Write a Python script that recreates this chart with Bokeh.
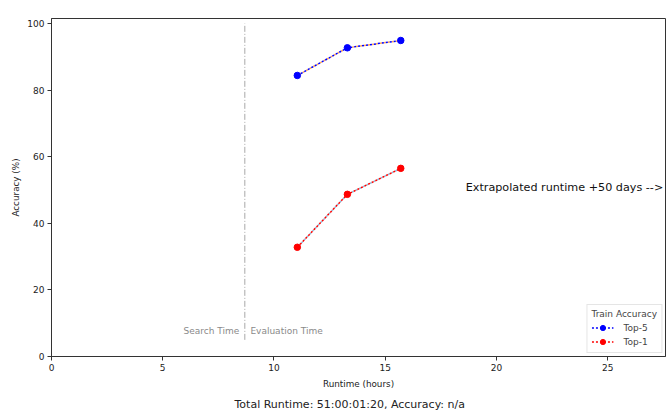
from bokeh.plotting import figure
from bokeh.models import Range1d, Legend, LegendItem, Label, Title, FixedTicker
from bokeh.embed import file_html
from bokeh.resources import INLINE

runtime_hours = [11.05, 13.3, 15.7]
top5_acc = [84.4, 92.7, 94.9]
top1_acc = [32.8, 48.7, 56.5]
boundary_hours = 8.69
x_ticks = [0, 5, 10, 15, 20, 25]
y_ticks = [0, 20, 40, 60, 80, 100]

FONT = "DejaVu Sans"
p = figure(width=671, height=420, output_backend="svg", toolbar_location=None,
           x_range=Range1d(0, 27.6), y_range=Range1d(0, 101.5),
           min_border_left=51, min_border_right=6, min_border_top=18, min_border_bottom=64)
p.xgrid.visible = False
p.ygrid.visible = False
p.outline_line_color = "#333333"
p.outline_line_width = 1

for ax in (p.xaxis[0], p.yaxis[0]):
    ax.major_label_text_font = FONT
    ax.major_label_text_font_size = "9px"
    ax.major_label_text_color = "#222222"
    ax.axis_label_text_font = FONT
    ax.axis_label_text_font_size = "8.8px"
    ax.axis_label_text_font_style = "normal"
    ax.axis_label_text_color = "#222222"
    ax.axis_line_color = "#333333"
    ax.major_tick_line_color = "#333333"
    ax.major_tick_out = 4
    ax.major_tick_in = 0
    ax.minor_tick_line_color = None
p.xaxis.ticker = FixedTicker(ticks=x_ticks)
p.yaxis.ticker = FixedTicker(ticks=y_ticks)
p.xaxis.axis_label = "Runtime (hours)"
p.yaxis.axis_label = "Accuracy (%)"
p.xaxis.major_label_standoff = 3
p.yaxis.major_label_standoff = 3
p.xaxis.axis_label_standoff = 5
p.yaxis.axis_label_standoff = 3

# vertical separator
p.segment(x0=[boundary_hours], y0=[5], x1=[boundary_hours], y1=[100],
          line_color="#a8a8a8", line_width=1, line_dash="6 2 1 2")
p.add_layout(Label(x=boundary_hours - 0.25, y=7.8, text="Search Time", text_align="right",
                   text_baseline="middle", text_font=FONT, text_font_size="9px",
                   text_color="#8a8a8a"))
p.add_layout(Label(x=boundary_hours + 0.25, y=7.8, text="Evaluation Time", text_align="left",
                   text_baseline="middle", text_font=FONT, text_font_size="9px",
                   text_color="#8a8a8a"))

# series
p.line(runtime_hours, top5_acc, line_color="#ff7f0e", line_width=1.5, line_dash="2 2",
       line_dash_offset=2, line_alpha=0.7)
l5 = p.line(runtime_hours, top5_acc, line_color="blue", line_width=1.5, line_dash="2 2")
s5 = p.scatter(runtime_hours, top5_acc, size=6.5, color="blue")
p.line(runtime_hours, top1_acc, line_color="#1f77b4", line_width=1.5, line_dash="2 2",
       line_dash_offset=2, line_alpha=0.5)
l1 = p.line(runtime_hours, top1_acc, line_color="red", line_width=1.5, line_dash="2 2")
s1 = p.scatter(runtime_hours, top1_acc, size=6.5, color="red")

p.add_layout(Label(x=27.5, y=50.6, text="Extrapolated runtime +50 days -->", text_align="right",
                   text_baseline="middle", text_font=FONT, text_font_size="11.2px",
                   text_color="#111111"))

legend = Legend(items=[LegendItem(label="Top-5", renderers=[l5, s5]),
                       LegendItem(label="Top-1", renderers=[l1, s1])],
                location="bottom_right", title="Train Accuracy")
legend.title_text_font = FONT
legend.title_text_font_size = "9px"
legend.title_text_font_style = "normal"
legend.label_text_font = FONT
legend.label_text_font_size = "9px"
legend.border_line_color = "#cccccc"
legend.margin = 3
legend.padding = 4
legend.spacing = 1
legend.glyph_width = 22
legend.glyph_height = 13
legend.label_height = 13
legend.label_standoff = 10
legend.title_standoff = 2
p.add_layout(legend)

p.add_layout(Title(text="Total Runtime: 51:00:01:20, Accuracy: n/a", align="left",
                   text_font=FONT, text_font_size="11px", text_font_style="normal",
                   text_color="#222222", offset=183, standoff=9), "below")

open("out.html", "w").write(file_html(p, INLINE))
